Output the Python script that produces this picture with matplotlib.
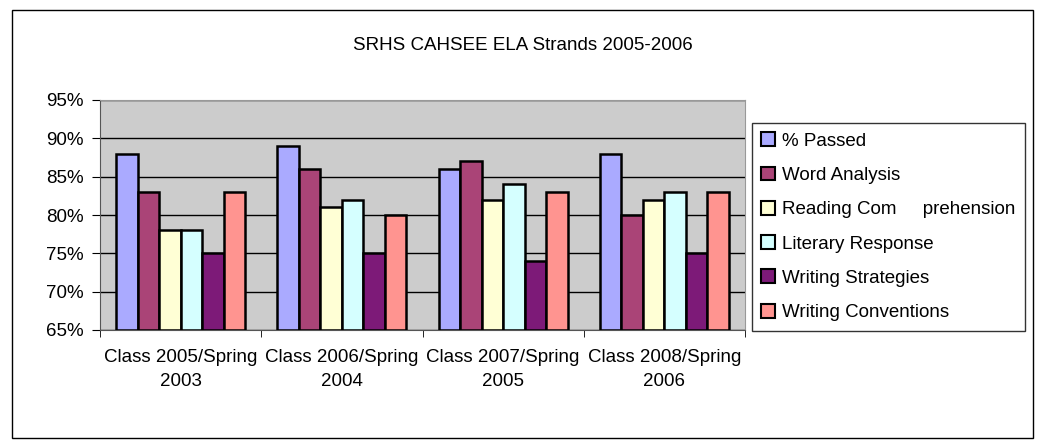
import numpy as np
import matplotlib
matplotlib.use("Agg")
import matplotlib.pyplot as plt
from matplotlib.patches import Rectangle

plt.rcParams['font.family'] = ['Liberation Sans', 'DejaVu Sans']

categories = ["Class 2005/Spring\n2003", "Class 2006/Spring\n2004",
              "Class 2007/Spring\n2005", "Class 2008/Spring\n2006"]
series_names = ["% Passed", "Word Analysis", "Reading Com     prehension",
                "Literary Response", "Writing Strategies", "Writing Conventions"]
passed = [88, 89, 86, 88]
word_analysis = [83, 86, 87, 80]
reading_comp = [78, 81, 82, 82]
literary_resp = [78, 82, 84, 83]
writing_strat = [75, 75, 74, 75]
writing_conv = [83, 80, 83, 83]
colors = ["#AAAAFF", "#AA4477", "#FFFFD5", "#D5FFFF", "#7D1A78", "#FF9490"]

series = [passed, word_analysis, reading_comp, literary_resp, writing_strat, writing_conv]

FS = 13.5

fig = plt.figure(figsize=(10.41, 4.40), dpi=100)
fig.patches.append(Rectangle((12 / 1041, 2 / 440), 1021 / 1041, 428 / 440,
                             transform=fig.transFigure, fill=False,
                             edgecolor="black", linewidth=1))
ax = fig.add_axes([100 / 1041, 1 - 330 / 440, 645 / 1041, 230 / 440])
ax.set_facecolor("#CCCCCC")

x = np.arange(len(categories))
n = len(series)
w = 0.8 / n
for i, (vals, name, c) in enumerate(zip(series, series_names, colors)):
    ax.bar(x - 0.4 + w * (i + 0.5), np.array(vals) - 65, bottom=65, width=w,
           color=c, edgecolor="black", linewidth=1.8, label=name, zorder=3)

ax.set_xlim(-0.5, len(categories) - 0.5)
ax.set_ylim(65, 95)
ax.set_yticks(range(65, 96, 5))
ax.set_yticklabels([f"{v}%" for v in range(65, 96, 5)], fontsize=FS)
ax.yaxis.grid(True, color="black", linewidth=1, zorder=0)
ax.set_xticks(x)
ax.set_xticklabels(categories, fontsize=FS, linespacing=1.5)
ax.tick_params(axis="x", length=0, pad=14)
ax.set_xticks(np.arange(-0.5, len(categories)), minor=True)
ax.tick_params(axis="x", which="minor", length=5, direction="out")
ax.tick_params(axis="y", length=6, direction="out", pad=6)
for s in ["top", "right"]:
    ax.spines[s].set_color("#999999")
ax.spines["left"].set_color("#555555")
ax.spines["bottom"].set_color("#555555")

fig.text(523 / 1041, 1 - 45 / 440, "SRHS CAHSEE ELA Strands 2005-2006",
         ha="center", va="center", fontsize=FS)

leg = ax.legend(loc="upper left", bbox_to_anchor=(752 / 1041, 1 - 123 / 440),
                bbox_transform=fig.transFigure, frameon=True, fancybox=False,
                fontsize=FS, handlelength=0.75, handleheight=0.75, handletextpad=0.35,
                labelspacing=0.9, borderpad=0.5, borderaxespad=0)
leg.get_frame().set_edgecolor("black")
leg.get_frame().set_linewidth(1)
for h in leg.legend_handles:
    h.set_linewidth(1.5)

fig.savefig("out.png", dpi=100)
